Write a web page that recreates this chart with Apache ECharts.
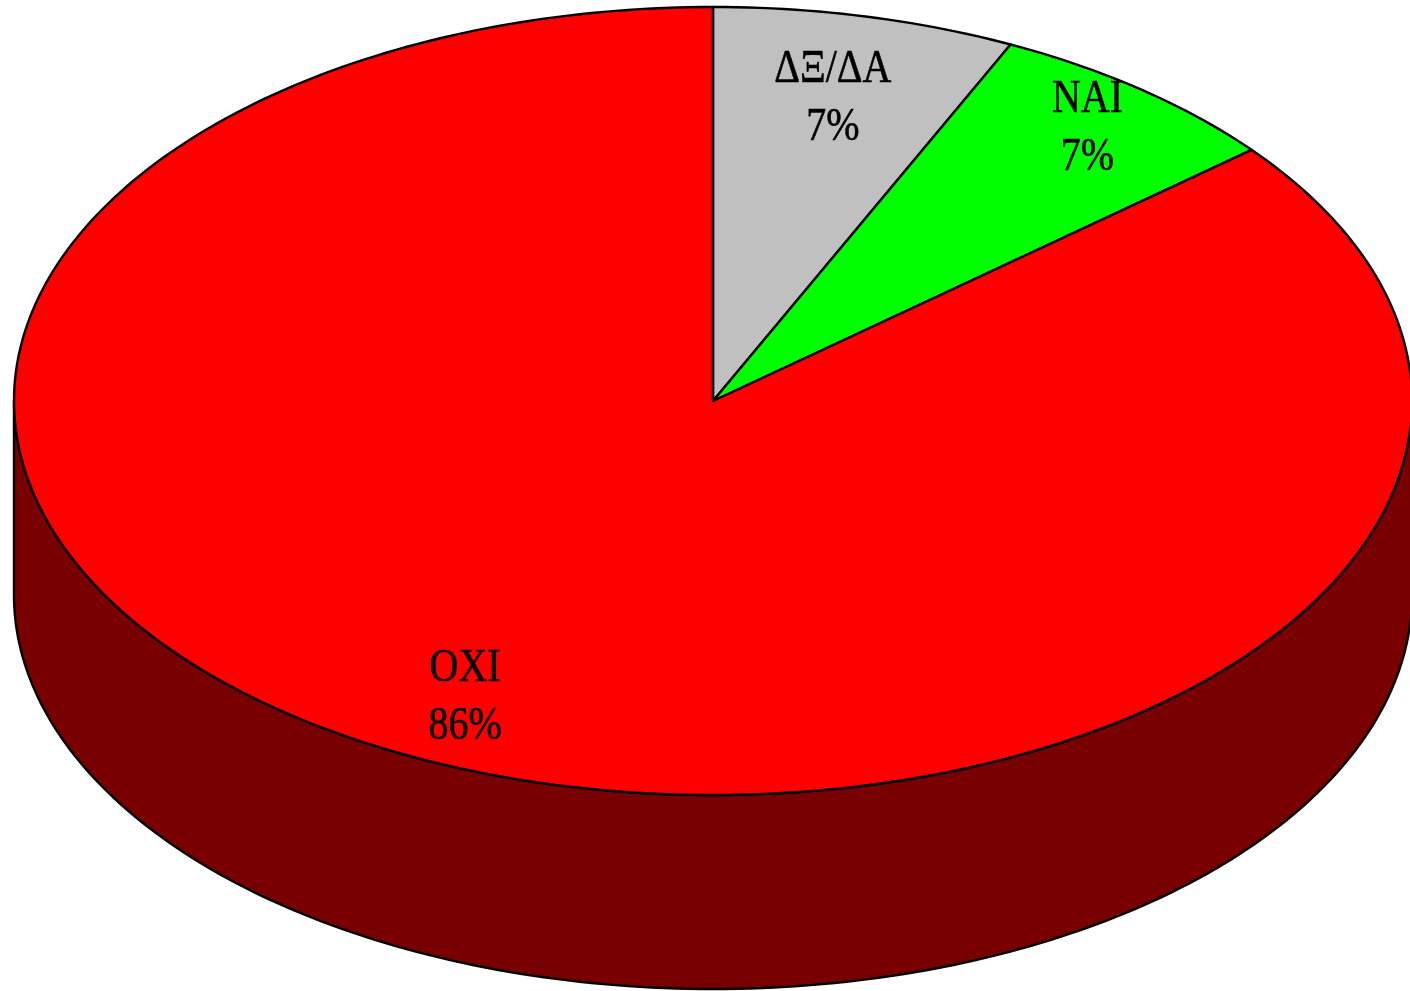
<!DOCTYPE html>
<html>
<head>
<meta charset="utf-8">
<script src="https://cdn.jsdelivr.net/npm/echarts@6/dist/echarts.min.js"></script>
<style>
html,body{margin:0;padding:0;background:#fff;}
#chart{width:1410px;height:991px;}
</style>
</head>
<body>
<div id="chart"></div>
<script>
var categories = ['ΔΞ/ΔΑ', 'NAI', 'OXI'];
var values = [7, 7, 86];
var topColors = ['#C0C0C0', '#00FF00', '#FF0000'];
var sideColors = ['#606060', '#007F00', '#790000'];

var total = values.reduce(function (a, b) { return a + b; }, 0);
var starts = [];
var acc = 0;
for (var i = 0; i < values.length; i++) { starts.push(acc); acc += values[i]; }

// label placement (fraction of radius along the slice's middle angle)
var labelRadii = [0.786, 0.874, 0.833];

var chart = echarts.init(document.getElementById('chart'));

function renderItem(params, api) {
  var W = api.getWidth(), H = api.getHeight();
  var cx = W * 713 / 1410, cy = H * 401 / 991;
  var rx = W * 699 / 1410, ry = H * 394 / 991;
  var depth = H * 194 / 991;
  var idx = params.dataIndex;
  var v = api.value(0);
  var a0 = starts[idx] / total * 360;
  var a1 = a0 + v / total * 360;
  function pt(a, dy) {
    var r = a * Math.PI / 180;
    return [cx + rx * Math.sin(r), cy - ry * Math.cos(r) + (dy || 0)];
  }
  var children = [];
  var s0 = Math.max(a0, 90), s1 = Math.min(a1, 270);
  if (s1 > s0) {
    var sp = [];
    var n = Math.max(8, Math.ceil(s1 - s0));
    for (var k = 0; k <= n; k++) sp.push(pt(s0 + (s1 - s0) * k / n, 0));
    for (var k2 = n; k2 >= 0; k2--) sp.push(pt(s0 + (s1 - s0) * k2 / n, depth));
    children.push({
      type: 'polygon', z2: 1,
      shape: { points: sp },
      style: { fill: sideColors[idx], stroke: '#000', lineWidth: 2.4, lineJoin: 'round' }
    });
  }
  var tp = [[cx, cy]];
  var m = Math.max(8, Math.ceil(a1 - a0));
  for (var j = 0; j <= m; j++) tp.push(pt(a0 + (a1 - a0) * j / m, 0));
  children.push({
    type: 'polygon', z2: 5,
    shape: { points: tp },
    style: { fill: topColors[idx], stroke: '#000', lineWidth: 2.4, lineJoin: 'round' }
  });
  var mid = (a0 + a1) / 2;
  var lr = labelRadii[idx];
  var mr = mid * Math.PI / 180;
  var lx = cx + rx * lr * Math.sin(mr);
  var ly = cy - ry * lr * Math.cos(mr);
  children.push({
    type: 'text', z2: 10,
    x: lx, y: ly,
    scaleY: 1.15,
    style: {
      text: categories[idx] + '\n' + Math.round(v / total * 100) + '%',
      x: 0, y: 0,
      textAlign: 'center', textVerticalAlign: 'middle',
      font: '40px "Liberation Serif", "Times New Roman", serif',
      lineHeight: 50,
      fill: '#000',
      stroke: '#000',
      lineWidth: 0.5
    }
  });
  return { type: 'group', children: children };
}

chart.setOption({
  animation: false,
  backgroundColor: '#fff',
  series: [{
    type: 'custom',
    coordinateSystem: 'none',
    renderItem: renderItem,
    data: values.map(function (v, i) { return { value: [v], name: categories[i] }; })
  }]
});
</script>
</body>
</html>
